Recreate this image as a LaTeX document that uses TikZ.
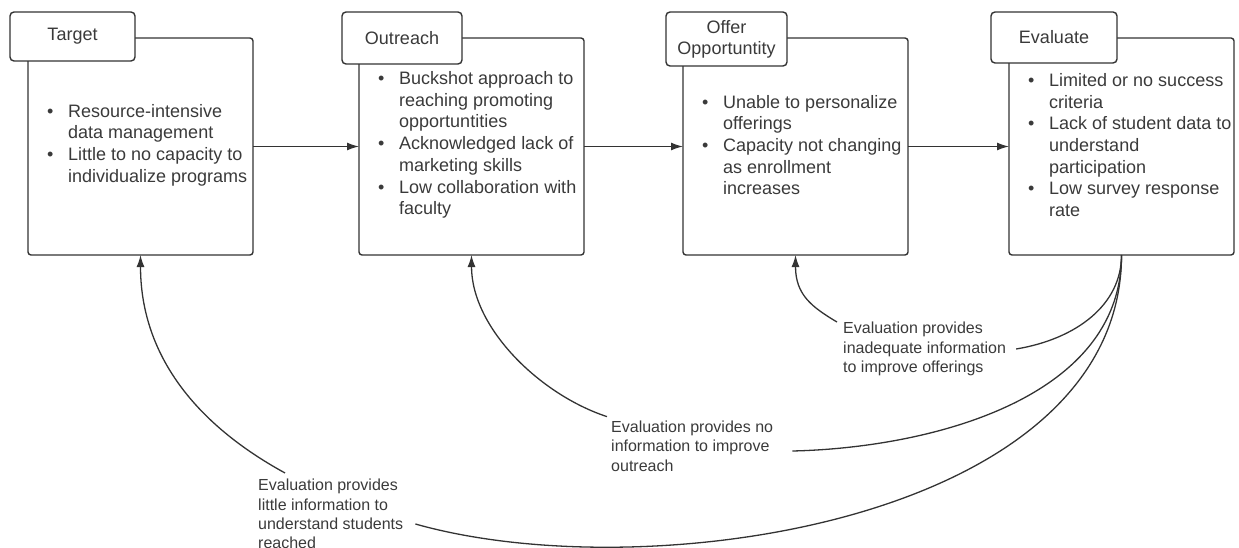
\documentclass[tikz,border=0pt]{standalone}
\usepackage{fontspec}
\setmainfont{Liberation Sans}
\usetikzlibrary{arrows.meta,calc}
\definecolor{ink}{HTML}{333333}
\definecolor{txt}{HTML}{3A3A3A}
\newcommand{\bul}{\makebox[21pt][l]{\textbullet}}
\newcommand{\ind}{\hspace*{21pt}}
\begin{document}
\begin{tikzpicture}[x=1pt,y=-1pt,
  mainbox/.style={draw=ink, line width=1.4pt, rounded corners=3pt, minimum width=225pt, minimum height=217pt, inner sep=0pt, outer sep=0pt},
  headbox/.style={draw=ink, fill=white, line width=1.4pt, rounded corners=4pt, inner sep=0pt, outer sep=0pt, font=\fontsize{18}{21}\selectfont, text=txt, align=center},
  bullets/.style={anchor=west, inner sep=0pt, align=left, text=txt, font=\fontsize{18}{21.7}\selectfont},
  lab/.style={anchor=west, inner sep=0pt, align=left, text=txt, font=\fontsize{16}{19.3}\selectfont},
  arr/.style={draw=ink, line width=1.3pt, -{Latex[length=12pt,width=8pt]}},
  conn/.style={draw=ink, line width=1.3pt}]

\useasboundingbox (0,0) rectangle (1239,548);

% main boxes
\node[mainbox] (b1) at (140.5,146.5) {};
\node[mainbox] (b2) at (471.5,146.5) {};
\node[mainbox] (b3) at (795.5,146.5) {};
\node[mainbox] (b4) at (1121.5,146.5) {};

% header boxes
\node[headbox, minimum width=125pt, minimum height=49pt] (h1) at (72.5,36.5) {Target};
\node[headbox, minimum width=120pt, minimum height=52pt] (h2) at (402,38) {Outreach};
\node[headbox, minimum width=121pt, minimum height=54pt] (h3) at (726.5,39) {Offer\\Opportuntity};
\node[headbox, minimum width=126pt, minimum height=51pt] (h4) at (1054,37.5) {Evaluate};

% bullet texts
\node[bullets] (t1) at ($(b1.west)+(19,-1.5)$) {\bul Resource-intensive\\\ind data management\\\bul Little to no capacity to\\\ind individualize programs};
\node[bullets] (t2) at ($(b2.west)+(19,-1.5)$) {\bul Buckshot approach to\\\ind reaching promoting\\\ind opportuntities\\\bul Acknowledged lack of\\\ind marketing skills\\\bul Low collaboration with\\\ind faculty};
\node[bullets] (t3) at ($(b3.west)+(19,-1.5)$) {\bul Unable to personalize\\\ind offerings\\\bul Capacity not changing\\\ind as enrollment\\\ind increases};
\node[bullets] (t4) at ($(b4.west)+(19,-1.5)$) {\bul Limited or no success\\\ind criteria\\\bul Lack of student data to\\\ind understand\\\ind participation\\\bul Low survey response\\\ind rate};

% horizontal arrows
\draw[arr] (b1.east) -- (b2.west);
\draw[arr] (b2.east) -- (b3.west);
\draw[arr] (b3.east) -- (b4.west);

% feedback labels
\node[lab] (l1) at (843,349) {Evaluation provides\\inadequate information\\to improve offerings};
\node[lab] (l2) at (611,446) {Evaluation provides no\\information to improve\\outreach};
\node[lab] (l3) at (258,514) {Evaluation provides\\little information to\\understand students\\reached};

% feedback connectors
\draw[conn] ($(l1.east)+(10,0)$) .. controls +(60,-10) and +(0,50) .. (b4.south);
\draw[arr] ($(l1.north west)+(-6,0)$) .. controls +(-25,-15) and +(0,40) .. (b3.south);

\draw[conn] ($(l2.east)+(19,5)$) .. controls +(135,-3) and +(0,145) .. (b4.south);
\draw[arr] ($(l2.north west)+(-4,-4)$) .. controls +(-67,-22) and +(0,73) .. (b2.south);

\draw[conn] ($(l3.east)+(12,10)$) .. controls +(233,66) and +(0,265) .. (b4.south);
\draw[arr] ($(l3.north west)+(27,-6)$) .. controls +(-95,-52) and +(0,95) .. (b1.south);
\end{tikzpicture}
\end{document}
